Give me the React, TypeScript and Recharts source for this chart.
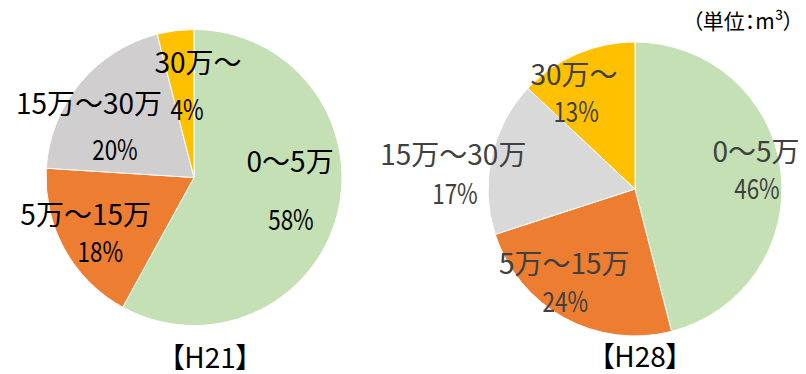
import { Cell, Pie, PieChart } from 'recharts';

const categories = ['0～5万', '5万～15万', '15万～30万', '30万～'];
const h21Values = [58, 18, 20, 4];
const h28Values = [46, 24, 17, 13];
const h21Colors = ['#C5E0B4', '#ED7D31', '#D0CECE', '#FFC000'];
const h28Colors = ['#C5E0B4', '#ED7D31', '#D9D9D9', '#FFC000'];

// label placement: [angle nudge from slice middle (deg, clockwise), distance as share of radius]
const h21Spots = [
  { name: [-24.7, 0.66], value: [8.3, 0.71] },
  { name: [10.7, 0.77], value: [-8.9, 0.8] },
  { name: [-3.8, 0.875], value: [-19.1, 0.57] },
  { name: [9.2, 0.79], value: [1.45, 0.47] },
];
const h28Spots = [
  { name: [-10.7, 0.865], value: [6.3, 0.83] },
  { name: [15.4, 0.69], value: [3.4, 0.89] },
  { name: [-1.4, 1.26], value: [-13.6, 1.225] },
  { name: [-4.4, 0.89], value: [-13.3, 0.67] },
];

const FONT = '"Noto Sans CJK JP", "Noto Sans", sans-serif';

const h21Data = categories.map((name, i) => ({ name, value: h21Values[i] }));
const h28Data = categories.map((name, i) => ({ name, value: h28Values[i] }));

function makeLabel(spots: typeof h21Spots, color: string) {
  return (props: any) => {
    const { cx, cy, midAngle, outerRadius, index, name, value } = props;
    const spot = spots[index];
    const at = ([d, k]: number[]) => {
      const t = ((90 - midAngle + d) * Math.PI) / 180;
      return { x: cx + k * outerRadius * Math.sin(t), y: cy - k * outerRadius * Math.cos(t) };
    };
    const n = at(spot.name);
    const v = at(spot.value);
    return (
      <g fontFamily={FONT} fontSize={28} fill={color}>
        <text x={n.x} y={n.y} textAnchor="middle" dominantBaseline="central">
          {name}
        </text>
        <text
          transform={`translate(${v.x},${v.y}) scale(0.8,1)`}
          textAnchor="middle"
          dominantBaseline="central"
        >
          {value}%
        </text>
      </g>
    );
  };
}

const overlay = (x: number, y: number, size: number): React.CSSProperties => ({
  position: 'absolute',
  left: x,
  top: y,
  transform: 'translate(-50%, -50%)',
  fontFamily: FONT,
  fontSize: size,
  lineHeight: 1,
  whiteSpace: 'nowrap',
  color: '#000',
  fontFeatureSettings: '"palt"',
});

export default function App() {
  return (
    <div style={{ position: 'absolute', left: 0, top: 0, width: 806, height: 374, background: '#fff', overflow: 'hidden' }}>
      <PieChart width={806} height={374} margin={{ top: 0, right: 0, bottom: 0, left: 0 }}>
        <Pie
          data={h21Data}
          dataKey="value"
          cx={194}
          cy={177.5}
          outerRadius={148}
          startAngle={90}
          endAngle={-270}
          stroke="#fff"
          strokeWidth={1}
          label={makeLabel(h21Spots, '#000')}
          labelLine={false}
          isAnimationActive={false}
        >
          {h21Data.map((d, i) => (
            <Cell key={d.name} fill={h21Colors[i]} />
          ))}
        </Pie>
        <Pie
          data={h28Data}
          dataKey="value"
          cx={635}
          cy={189}
          outerRadius={147}
          startAngle={90}
          endAngle={-270}
          stroke="#fff"
          strokeWidth={1}
          label={makeLabel(h28Spots, '#404040')}
          labelLine={false}
          isAnimationActive={false}
        >
          {h28Data.map((d, i) => (
            <Cell key={d.name} fill={h28Colors[i]} />
          ))}
        </Pie>
      </PieChart>
      <div style={overlay(210, 356, 28)}>【H21】</div>
      <div style={overlay(640, 355, 28)}>【H28】</div>
      <div style={overlay(743, 20, 21)}>（単位：m³）</div>
    </div>
  );
}
